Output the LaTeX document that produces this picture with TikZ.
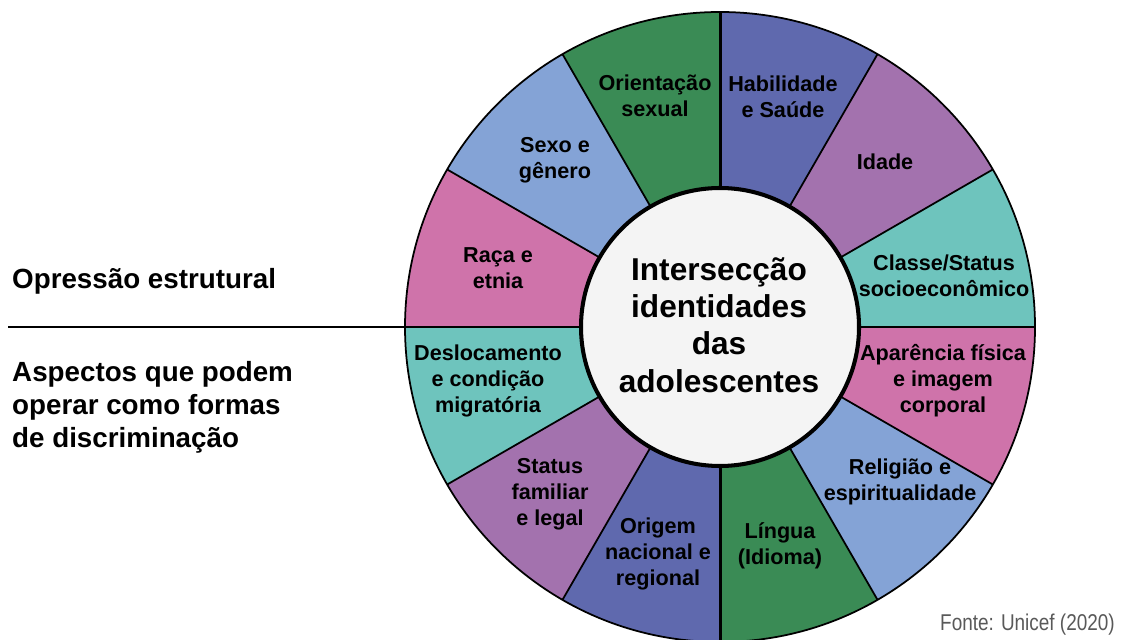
\documentclass[tikz,border=0pt]{standalone}
\usepackage{fontspec}
\setmainfont{Liberation Sans}
\usetikzlibrary{calc}

\definecolor{azul}{HTML}{5F69AE}
\definecolor{roxo}{HTML}{A372AE}
\definecolor{turquesa}{HTML}{6EC4BD}
\definecolor{rosa}{HTML}{CF73AA}
\definecolor{celeste}{HTML}{84A3D6}
\definecolor{verde}{HTML}{3A8B55}
\definecolor{miolo}{HTML}{F4F4F4}

\begin{document}
\begin{tikzpicture}[x=0.02cm,y=0.02cm,
    rotulo/.style={font=\bfseries\fontsize{12.3}{14.8}\selectfont,align=center},
    lado/.style={font=\bfseries\fontsize{15.8}{18.8}\selectfont,align=left,anchor=west}]

            \useasboundingbox (0,0) rectangle (1121,639);
            \coordinate (C) at (720,312);
            \coordinate (rodaE) at ($(C)+(180:315)$);
            \coordinate (linhaIni) at (8,312);

            % fatias
            \foreach \a/\cor in {60/azul,30/roxo,0/turquesa,-30/rosa,-60/celeste,-90/verde}{
                \fill[\cor] (C) -- ++(\a:315) arc[start angle=\a,end angle=\a+30,radius=315] -- cycle;
                \fill[\cor] (C) -- ++(\a+180:315) arc[start angle=\a+180,end angle=\a+210,radius=315] -- cycle;
            }
            \foreach \a in {30,60,120,150}{
                \draw[line width=1pt] (C) -- ++(\a:315);
                \draw[line width=1pt] (C) -- ++(\a+180:315);
            }
            \draw[line width=1.1pt] ($(C)+(0:315)$) -- (rodaE);
            \draw[line width=1.7pt] ($(C)+(90:315)$) -- ($(C)+(270:315)$);
            \draw[line width=1pt] (C) circle[radius=315];
            \draw[line width=2.3pt,fill=miolo] (C) circle[radius=139];

            \draw[line width=1.7pt] (linhaIni) -- (rodaE);

            \node (centro) at (719,314) [font=\bfseries\fontsize{18}{21.3}\selectfont,align=center]
                {Intersecção\\identidades\\das\\adolescentes};

            \node (habilidade) at (783,542) [rotulo] {Habilidade\\e Saúde};
            \node (idade) at (885,477) [rotulo] {Idade};
            \node (classe) at (944,363) [rotulo] {Classe/Status\\socioeconômico};
            \node (aparencia) at (943,258) [rotulo] {Aparência física\\e imagem\\corporal};
            \node (religiao) at (900,157) [rotulo] {Religião e\\espiritualidade};
            \node (lingua) at (780,93) [rotulo] {Língua\\(Idioma)};
            \node (origem) at (658,85) [rotulo] {Origem\\nacional e\\regional};
            \node (status) at (550,145) [rotulo] {Status\\familiar\\e legal};
            \node (deslocamento) at (488,258) [rotulo] {Deslocamento\\e condição\\migratória};
            \node (raca) at (498,371) [rotulo] {Raça e\\etnia};
            \node (sexo) at (555,479) [rotulo] {Sexo e\\gênero};
            \node (orientacao) at (655,543) [rotulo] {Orientação\\sexual};

            \node (opressao) at (6,358) [lado] {Opressão estrutural};
            \node (aspectos) at (6,232) [lado] {Aspectos que podem\\operar como formas\\de discriminação};

            \node (fonte) at (1121,14) [anchor=east,text=black!65,font=\fontsize{13}{15}\selectfont]
                {\scalebox{0.83}[1]{Fonte: Unicef (2020)}};
        \end{tikzpicture}
\end{document}
